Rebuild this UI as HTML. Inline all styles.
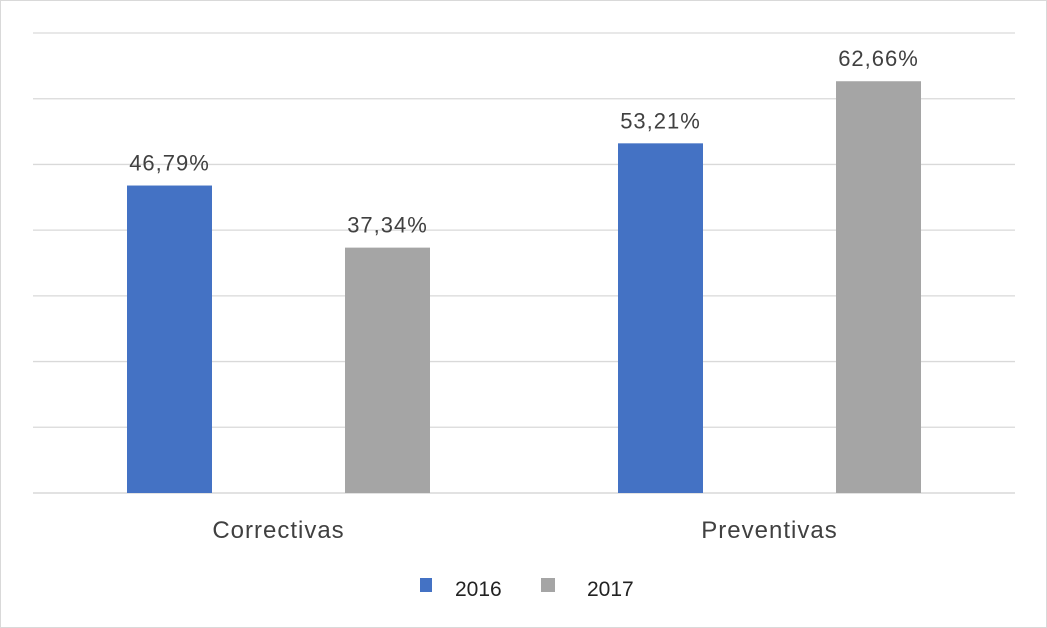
<!DOCTYPE html>
<html><head><meta charset="utf-8"><style>
body{margin:0;background:#fff;}
svg{display:block;font-family:"Liberation Sans",sans-serif;}
</style></head><body>
<svg id="c" width="1047" height="628">
<rect x="0.5" y="0.5" width="1046" height="627" fill="#fff" stroke="#d9d9d9"/>
<g id="grid"></g><g id="bars"></g><g id="labels"></g>
<g>
<rect x="420" y="578" width="12" height="14" fill="#4472c4"/>
<text x="455" y="596" font-size="21" fill="#222">2016</text>
<rect x="541" y="578" width="14" height="14" fill="#a5a5a5"/>
<text x="587" y="596" font-size="21" fill="#222">2017</text>
</g>
</svg>
<script>
const categories=["Correctivas","Preventivas"];
const series2016=[46.79,53.21];
const series2017=[37.34,62.66];
const valueLabels2016=["46,79%","53,21%"];
const valueLabels2017=["37,34%","62,66%"];
const gridTicks=[0,10,20,30,40,50,60,70];
const NS="http://www.w3.org/2000/svg";
const x0=33,x1=1015,yB=493,yT=33,maxV=70;
const y=v=>yB-(yB-yT)*v/maxV;
const catW=(x1-x0)/categories.length;
function mk(t,a,p){const e=document.createElementNS(NS,t);for(const k in a)e.setAttribute(k,a[k]);p.appendChild(e);return e;}
const g=document.getElementById('grid'),b=document.getElementById('bars'),l=document.getElementById('labels');
gridTicks.forEach(t=>{const e=mk('line',{x1:x0,x2:x1,y1:y(t),y2:y(t),stroke:t==0?'#d0d0d0':'#d9d9d9','stroke-width':1.3},g);

});
const bw=85;
categories.forEach((c,i)=>{
 const cx=x0+catW*(i+0.5);
 [[series2016,valueLabels2016,'#4472c4',-109,'2016'],[series2017,valueLabels2017,'#a5a5a5',109,'2017']].forEach(s=>{
  const v=s[0][i],bx=cx+s[3]-bw/2;
  const r=mk('rect',{x:bx,y:y(v),width:bw,height:yB-y(v),fill:s[2]},b);
  
  
  const t=mk('text',{x:bx+bw/2,y:y(v)-15,'text-anchor':'middle','font-size':22,'letter-spacing':1,fill:'#404040'},l);
  t.textContent=s[1][i];
  
  
 });
 const t=mk('text',{x:cx,y:538,'text-anchor':'middle','font-size':24,'letter-spacing':1,fill:'#404040'},l);
 t.textContent=c;
 
 
});
</script>
</body></html>
